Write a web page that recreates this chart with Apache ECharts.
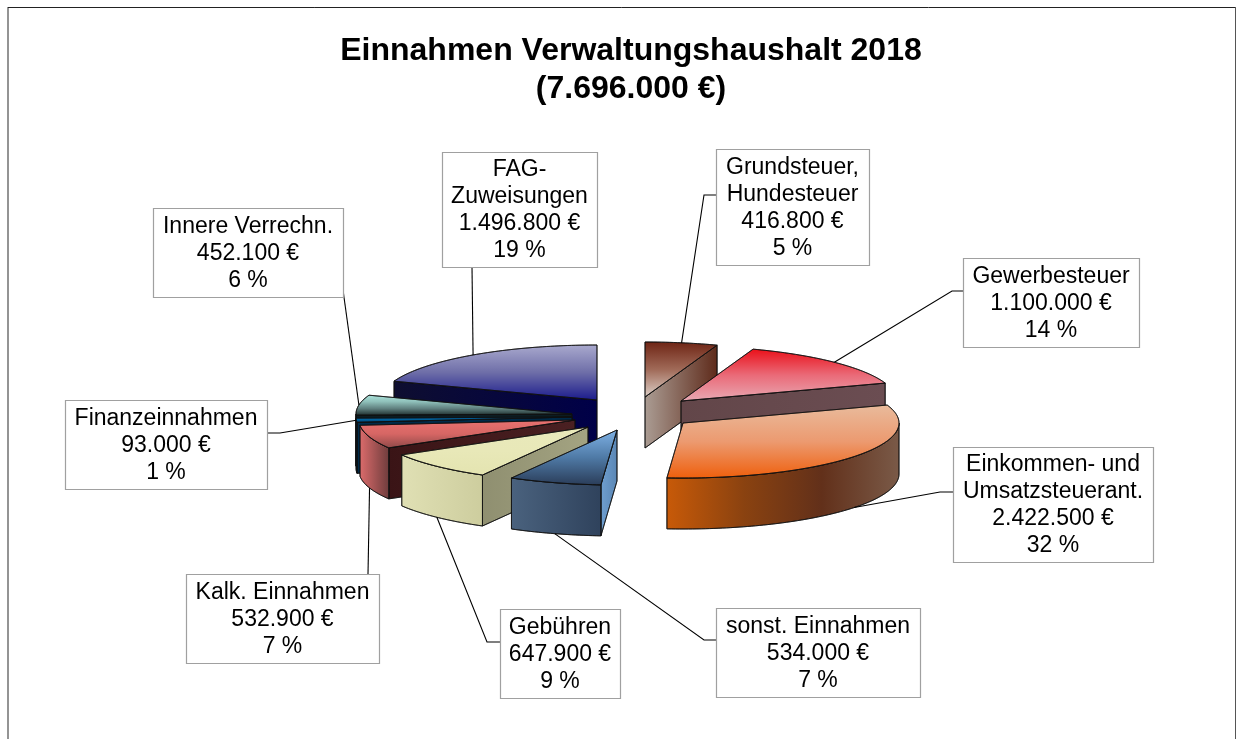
<!DOCTYPE html>
<html><head><meta charset="utf-8">
<style>html,body{margin:0;padding:0;background:#fff}#c{width:1245px;height:739px}</style>
<script src="https://cdn.jsdelivr.net/npm/echarts@6/dist/echarts.min.js"></script>
</head><body><div id="c"></div>
<script>
// ---- data, clockwise from twelve o'clock ----
const titleText = 'Einnahmen Verwaltungshaushalt 2018\n(7.696.000 €)';
const categories = ['Grundsteuer,\nHundesteuer','Gewerbesteuer','Einkommen- und\nUmsatzsteuerant.','sonst. Einnahmen','Gebühren','Kalk. Einnahmen','Finanzeinnahmen','Innere Verrechn.','FAG-\nZuweisungen'];
const values = [416800,1100000,2422500,534000,647900,532900,93000,452100,1496800];
const percentLabels = ['5 %','14 %','32 %','7 %','9 %','7 %','1 %','6 %','19 %'];

// ---- projection and layout ----
const centre = [620,412], rx = 216, ry = 55, depth = 51;
const explodeOffsets = [[25,-15],[61,-11],[63,11],[-3,18],[-32,15],[-45,8],[-48,5],[-48,2],[-23,-12]];
const drawOrder = [8,7,6,5,4,3,0,1,2];
const labelBoxes = [[716,149,153,116],[963,258,176,89],[953,447,200,115],[716,608,204,89],[500,609,120,89],[186,574,193,89],[65,400,202,89],[153,208,190,89],[442,152,155,115]];
const labelElbows = [[[716,195],[704,195]],[[963,291],[952,291]],[[953,492],[940,492]],[[716,640],[704,640]],[[500,642],[487,642]],[[368,574]],[[267,433],[280,433]],[[343,290]],[[472,267]]];

// ---- styles ----
const topColors = [['#6e2414','#a06a58','#ddd0c8'],['#ea0f18','#ea6a78','#e8aab4'],['#e9bb9c','#ec9a70','#ef5f0c'],['#7fb2e6','#4f7aa6','#2a3c58'],['#e9e9bb','#e8e8b8','#e4e4b0'],['#ea7270','#d66664','#8e4848'],['#005a9a','#00609a','#003a68'],['#aee6de','#8fc0ba','#5f7f7e','#1c2c2c'],['#aaaace','#6e6ea8','#1a1a8c']];
const outerColors = [['#6e3020','#6e3020'],['#5f4448','#6b4a4f'],['#c85a08','#8a4210','#62301a','#7a5a48'],['#4a627e','#2f425c'],['#e0e0b4','#cdcd9e'],['#dc6c6c','#6e3c3c'],['#00304e','#00304e'],['#102a30','#102a30'],['#1a1a40','#1a1a40']];
const radialColors = [['#ab9d94','#5e2a1a'],['#624649','#6b4d52'],['#a85010','#a85010'],['#6f9fd0','#5a86b4'],['#8f8f70','#a4a482'],['#3a1416','#4a2022'],['#002a48','#002a48'],['#0c1c22','#0c1c22'],['#0e0e30','#000048']];
const edge = 'rgba(15,15,15,0.72)';

const total = values.reduce((a,b)=>a+b,0);
const startAngles = [];
values.reduce((acc,v,i)=>{startAngles[i]=acc/total*2*Math.PI;return acc+v;},0);
const endAngle = i => startAngles[i] + values[i]/total*2*Math.PI;
const apex = i => [centre[0]+explodeOffsets[i][0], centre[1]+explodeOffsets[i][1]];
const rim = (a,t,dz) => [a[0]+rx*Math.sin(t), a[1]-ry*Math.cos(t)+(dz||0)];
const arc = (a,t0,t1,dz) => {
  const pts=[], n=Math.max(2,Math.ceil(Math.abs(t1-t0)/0.02));
  for(let k=0;k<=n;k++) pts.push(rim(a,t0+(t1-t0)*k/n,dz));
  return pts;
};
const grad = (stops,vertical) => new echarts.graphic.LinearGradient(0,0,vertical?0:1,vertical?1:0,
  stops.map((c,k)=>({offset:k/(stops.length-1),color:c})));
const poly = (points,fill) => ({type:'polygon',shape:{points},style:{fill,stroke:edge,lineWidth:1}});

function renderSlice(params,api){
  const i = api.value(0), a = apex(i), t0 = startAngles[i], t1 = endAngle(i);
  const children = [];
  const below = p => [p[0],p[1]+depth];
  const wall = t => {
    const r = rim(a,t);
    const pts = r[0] < a[0] ? [r,a,below(a),below(r)] : [a,r,below(r),below(a)];
    children.push(poly(pts,grad(radialColors[i],false)));
  };
  if(Math.sin(t0) < 0) wall(t0);
  if(Math.sin(t1) > 0) wall(t1);
  const lo = Math.max(t0,Math.PI/2), hi = Math.min(t1,1.5*Math.PI);
  if(hi > lo){
    children.push(poly(arc(a,lo,hi,0).concat(arc(a,hi,lo,depth)),grad(outerColors[i],false)));
  }
  children.push(poly([a].concat(arc(a,t0,t1,0)),grad(topColors[i],true)));
  return {type:'group',children};
}

function renderLabel(params,api){
  const i = api.value(0), b = labelBoxes[i], a = apex(i);
  const mid = (startAngles[i]+endAngle(i))/2;
  const front = mid > Math.PI/2 && mid < 1.46*Math.PI;
  const anchor = rim(a,mid,front?depth:0);
  const text = categories[i]+'\n'+fmt(values[i])+' €\n'+percentLabels[i];
  return {type:'group',children:[
    {type:'polyline',shape:{points:labelElbows[i].concat([anchor])},style:{fill:null,stroke:'#000',lineWidth:1.1}},
    {type:'rect',shape:{x:b[0]+.5,y:b[1]+.5,width:b[2],height:b[3]},
      style:{fill:'#fff',stroke:'#a0a0a0',lineWidth:1.2}},
    {type:'text',style:{x:b[0]+b[2]/2,y:b[1]+b[3]/2+1,text,align:'center',verticalAlign:'middle',
      fontFamily:'Liberation Sans',fontSize:23,lineHeight:27,fill:'#000'}}
  ]};
}
const fmt = v => String(v).replace(/\B(?=(\d{3})+$)/g,'.');

const chart = echarts.init(document.getElementById('c'),null,{renderer:'canvas'});
chart.setOption({
  animation:false,
  backgroundColor:'#fff',
  title:{text:titleText,left:631,top:27,textAlign:'center',
    textStyle:{fontFamily:'Liberation Sans',fontWeight:'bold',fontSize:32,lineHeight:38,color:'#000'}},
  graphic:[
    {type:'line',silent:true,shape:{x1:8,y1:7,x2:8,y2:739},style:{stroke:'#707070',lineWidth:1.5}},
    {type:'line',silent:true,shape:{x1:8,y1:7.5,x2:1235.5,y2:7.5},style:{stroke:'#222',lineWidth:1}},
    {type:'line',silent:true,shape:{x1:1235.5,y1:7,x2:1235.5,y2:739},style:{stroke:'#555',lineWidth:1}}
  ],
  series:[
    {type:'custom',name:'Einnahmen',coordinateSystem:'none',clip:false,z:2,renderItem:renderSlice,
      data:drawOrder.map(i=>({name:categories[i],value:[i,values[i]]}))},
    {type:'custom',name:'Beschriftung',coordinateSystem:'none',clip:false,z:3,renderItem:renderLabel,
      data:drawOrder.map(i=>({name:categories[i],value:[i,values[i]]}))}
  ]
});
chart.setOption({title:{left:626}});
</script></body></html>
